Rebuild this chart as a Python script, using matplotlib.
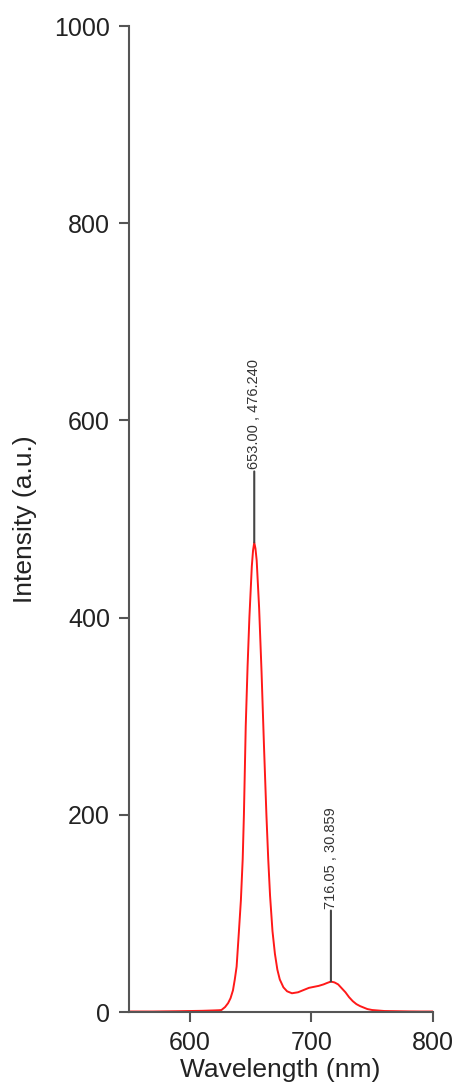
import matplotlib
matplotlib.use("Agg")
import matplotlib.pyplot as plt

# Data
wavelength = [550, 570, 590, 600, 610, 615, 620, 624, 626, 629, 631.5, 633.5, 635.5,
              637, 638.5, 640.3, 642, 643.5, 644.5, 646, 647.5, 649, 651, 652, 653,
              654, 655, 657, 659, 661, 663, 664.5, 666, 668, 670, 672, 674, 677,
              680, 684, 689, 693, 698, 702, 706, 710, 713, 716.05, 719, 722, 725,
              728, 731, 734, 737, 740, 743, 746, 750, 755, 760, 770, 780, 790, 800]
intensity = [0.5, 0.5, 0.8, 1.0, 1.2, 1.4, 1.6, 1.8, 2.0, 5.0, 9.0, 14, 22,
             33, 46, 80, 113, 155, 200, 290, 350, 400, 452, 468, 476.24,
             470, 458, 410, 345, 270, 200, 155, 118, 82, 59, 43, 33, 25,
             21, 19, 20, 22, 24.5, 25.5, 26.5, 28, 29.5, 30.859, 30, 28, 24,
             20, 15, 11, 8, 6, 4.5, 3, 2, 1.5, 1.0, 0.8, 0.6, 0.5, 0.5]

peak_x = [653.00, 716.05]
peak_y = [476.240, 30.859]
peak_labels = ["653.00 , 476.240", "716.05 , 30.859"]

x_ticks = [600, 700, 800]
y_ticks = [0, 200, 400, 600, 800, 1000]

plt.rcParams['font.family'] = ['Liberation Sans', 'DejaVu Sans']

fig = plt.figure(figsize=(4.58, 10.88), dpi=100)
ax = fig.add_axes([129/458, 76/1088, 304/458, 986/1088])

ax.plot(wavelength, intensity, color='#ff0000', lw=1.4, alpha=0.9)

for px, py, lab in zip(peak_x, peak_y, peak_labels):
    ax.annotate("", xy=(px, py), xytext=(0, 71), textcoords='offset pixels',
                arrowprops=dict(arrowstyle='-', color='#444444', lw=1.5,
                                shrinkA=0, shrinkB=0))
    ax.annotate(lab, xy=(px, py), xytext=(0, 73), textcoords='offset pixels',
                rotation=90, ha='center', va='bottom', fontsize=10.5,
                color='#333333')

ax.set_xlim(550, 800)
ax.set_ylim(0, 1000)
ax.set_xticks(x_ticks)
ax.set_yticks(y_ticks)

for s in ['top', 'right']:
    ax.spines[s].set_visible(False)
for s in ['left', 'bottom']:
    ax.spines[s].set_color('#555555')
    ax.spines[s].set_linewidth(1.5)

ax.tick_params(axis='both', length=7.2, width=1.5, color='#555555',
               labelsize=18, labelcolor='#222222', pad=6.5)

ax.set_xlabel("Wavelength (nm)", fontsize=19, color='#222222')
ax.set_ylabel("Intensity (a.u.)", fontsize=19, color='#222222')
ax.xaxis.set_label_coords(0.497, -0.047)
ax.yaxis.set_label_coords(-0.303, 0.5)

fig.savefig("out.png", dpi=100)
